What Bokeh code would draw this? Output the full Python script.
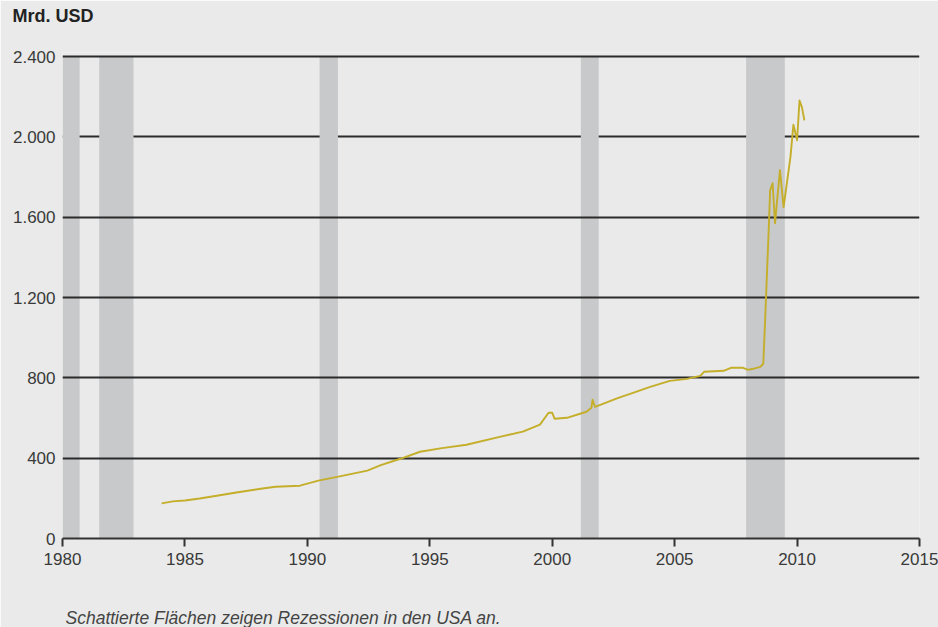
from bokeh.plotting import figure
from bokeh.models import Range1d, FixedTicker, Title
from bokeh.embed import file_html
from bokeh.resources import INLINE

# Recession periods (USA)
rec_start = [1980.0, 1981.5, 1990.5, 2001.17, 2007.92]
rec_end = [1980.7, 1982.9, 1991.25, 2001.9, 2009.5]

# Series (Mrd. USD)
years = [1984.05, 1984.5, 1985.0, 1985.6, 1986.3, 1987.1, 1988.1, 1988.7, 1989.7,
         1990.45, 1991.27, 1992.45, 1993.0, 1993.8, 1994.6, 1995.5, 1996.5, 1997.9,
         1998.8, 1999.5, 1999.85, 2000.0, 2000.1, 2000.6, 2001.4, 2001.6, 2001.65,
         2001.75, 2002.7, 2003.3, 2004.0, 2004.8, 2005.5, 2006.05, 2006.2, 2007.0,
         2007.3, 2007.8, 2008.0, 2008.2, 2008.5, 2008.62, 2008.7, 2008.78, 2008.83,
         2008.9, 2009.0, 2009.1, 2009.3, 2009.45, 2009.73, 2009.85, 2010.0, 2010.1,
         2010.2, 2010.3]
values = [175, 185, 189, 199, 213, 229, 248, 258, 263,
          288, 308, 338, 365, 397, 432, 450, 467, 507,
          532, 567, 626, 626, 596, 601, 631, 651, 691,
          655, 700, 725, 755, 785, 795, 810, 830, 835,
          850, 850, 840, 845, 855, 870, 1100, 1350, 1500,
          1734, 1769, 1570, 1834, 1650, 1900, 2060, 1983, 2181,
          2147, 2082]

x_ticks = [1980, 1985, 1990, 1995, 2000, 2005, 2010, 2015]
y_ticks = [0, 400, 800, 1200, 1600, 2000, 2400]
y_tick_labels = ["0", "400", "800", "1.200", "1.600", "2.000", "2.400"]

BG = "#e9eae9"
p = figure(width=938, height=627, x_range=Range1d(1980, 2015), y_range=Range1d(0, 2420),
           output_backend="svg", toolbar_location=None,
           min_border_left=62, min_border_right=19, min_border_top=52, min_border_bottom=88)
p.background_fill_color = BG
p.border_fill_color = BG
p.outline_line_color = None
p.xgrid.visible = False
p.ygrid.visible = False

# gridline that sits behind the shading
grid_behind = [v for v in y_ticks if v == 2000]
grid_front = [v for v in y_ticks if v not in (0, 2000)]
p.hspan(y=grid_behind, line_color="#2b2b2b", line_width=2)
p.quad(left=rec_start, right=rec_end, bottom=0, top=max(y_ticks),
       fill_color="#c8c9cb", line_color=None)
p.hspan(y=grid_front, line_color="#2b2b2b", line_width=2)

p.line(years, values, line_color="#c4ae2a", line_width=1.9, line_join="round")

# axes
p.xaxis.ticker = FixedTicker(ticks=x_ticks)
p.xaxis.axis_line_color = "#333333"
p.xaxis.axis_line_width = 2
p.xaxis.major_tick_line_color = "#333333"
p.xaxis.major_tick_line_width = 2
p.xaxis.major_tick_out = 8
p.xaxis.major_tick_in = 0
p.xaxis.minor_tick_line_color = None
p.xaxis.major_label_standoff = 6
p.xaxis.major_label_text_font = "Liberation Sans"
p.xaxis.major_label_text_font_size = "17px"
p.xaxis.major_label_text_color = "#3a3a3a"

p.yaxis.ticker = FixedTicker(ticks=y_ticks)
p.yaxis.major_label_overrides = {t: l for t, l in zip(y_ticks, y_tick_labels)}
p.yaxis.axis_line_color = None
p.yaxis.major_tick_line_color = None
p.yaxis.minor_tick_line_color = None
p.yaxis.major_tick_out = 0
p.yaxis.major_tick_in = 0
p.yaxis.major_label_standoff = 7
p.yaxis.major_label_text_font = "Liberation Sans"
p.yaxis.major_label_text_font_size = "17px"
p.yaxis.major_label_text_color = "#3a3a3a"

# spacer + title above
p.add_layout(Title(text=" ", text_font_size="1px", standoff=24), "above")
p.add_layout(Title(text="Mrd. USD", align="left", offset=-50, standoff=0,
                   text_font="Liberation Sans", text_font_style="bold", text_font_size="18px",
                   text_color="#222222"), "above")
# spacer + footnote below
p.add_layout(Title(text=" ", text_font_size="1px", standoff=35), "below")
p.add_layout(Title(text="Schattierte Flächen zeigen Rezessionen in den USA an.",
                   align="left", offset=3, standoff=0,
                   text_font="Liberation Sans", text_font_style="italic", text_font_size="17.5px",
                   text_color="#444444"), "below")

open("out.html", "w").write(file_html(p, INLINE))
